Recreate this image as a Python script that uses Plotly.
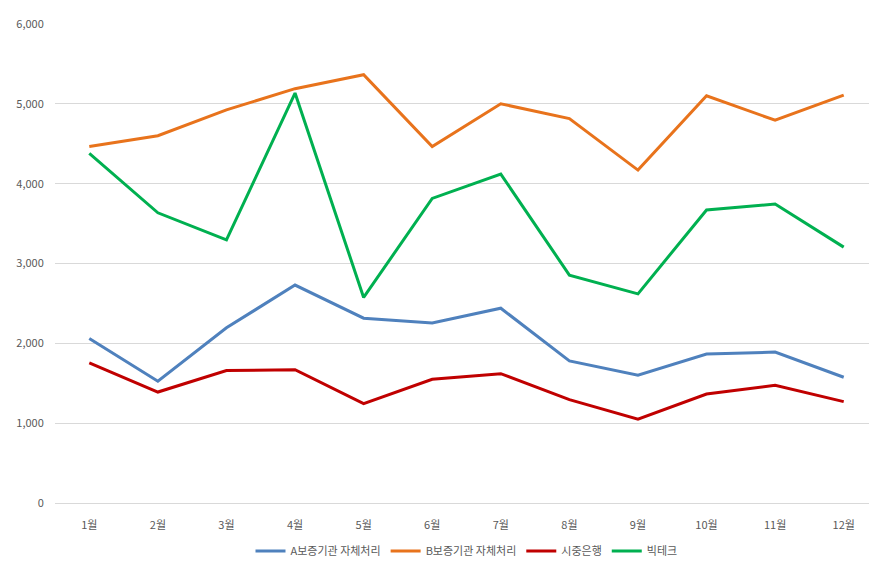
import plotly.graph_objects as go

months = [f"{i}월" for i in range(1, 13)]
a_self = [2060, 1525, 2195, 2730, 2315, 2255, 2440, 1780, 1600, 1865, 1890, 1575]
b_self = [4465, 4600, 4925, 5190, 5365, 4465, 5000, 4815, 4170, 5100, 4795, 5110]
bank = [1755, 1390, 1660, 1670, 1245, 1550, 1620, 1295, 1050, 1365, 1475, 1270]
bigtech = [4380, 3635, 3295, 5135, 2575, 3815, 4120, 2855, 2620, 3670, 3745, 3205]

series = [
    ("A보증기관 자체처리", a_self, "#4f81bd"),
    ("B보증기관 자체처리", b_self, "#e8731c"),
    ("시중은행", bank, "#c00000"),
    ("빅테크", bigtech, "#00b050"),
]

fig = go.Figure()
for name, vals, color in series:
    fig.add_trace(go.Scatter(x=months, y=vals, name=name, mode="lines",
                             line=dict(color=color, width=3)))

fig.update_layout(
    width=877, height=564,
    plot_bgcolor="white", paper_bgcolor="white",
    font=dict(family="Noto Sans CJK KR", size=11, color="#595959"),
    margin=dict(l=47, r=7, t=11, b=61),
    legend=dict(orientation="h", x=0.5, xanchor="center", y=-0.07, yanchor="top"),
    xaxis=dict(range=[-0.5, 11.5], showgrid=False, showline=True,
               linecolor="#d9d9d9", ticks="outside", ticklen=12,
               tickcolor="rgba(0,0,0,0)"),
    yaxis=dict(range=[0, 6000], dtick=1000, tickformat=",", gridcolor="#d9d9d9",
               zeroline=False, ticks="outside", ticklen=8,
               tickcolor="rgba(0,0,0,0)"),
)
fig.write_html("out.html")
